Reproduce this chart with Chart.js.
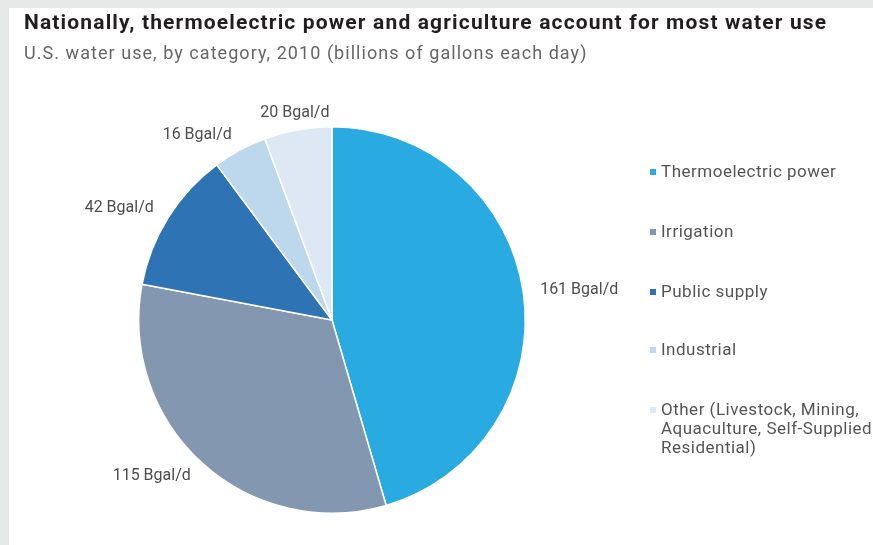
<!DOCTYPE html>
<html>
<head>
<meta charset="utf-8">
<script src="https://cdn.jsdelivr.net/npm/chart.js@4/dist/chart.umd.min.js"></script>
<style>
  html, body { margin: 0; padding: 0; background: #e7e9e8; }
  #frame { position: relative; width: 873px; height: 545px; overflow: hidden; }
  #panel { position: absolute; left: 9px; top: 8px; right: 0; bottom: 0; background: #fff; }
  #chart { position: absolute; left: 0; top: 0; }
  .title { position: absolute; left: 24px; top: 10px; font: bold 21px Roboto, sans-serif; letter-spacing: 1.15px; color: #231f20; white-space: nowrap; }
  .subtitle { position: absolute; left: 24px; top: 42px; font: 18px Roboto, sans-serif; letter-spacing: 1.05px; color: #666; white-space: nowrap; }
  #legend { position: absolute; left: 650px; top: 0; font: 17px Roboto, sans-serif; letter-spacing: 0.5px; color: #555; }
  .item { position: absolute; left: 0; white-space: nowrap; line-height: 19px; }
  .swatch { position: absolute; left: 0; top: 7px; width: 6px; height: 6px; }
  .text { position: absolute; left: 11px; top: 0; }
</style>
</head>
<body>
<div id="frame">
  <div id="panel"></div>
  <canvas id="chart" width="873" height="545"></canvas>
  <div class="title">Nationally, thermoelectric power and agriculture account for most water use</div>
  <div class="subtitle">U.S. water use, by category, 2010 (billions of gallons each day)</div>
  <div id="legend"></div>
</div>
<script>
// Data
const categories = ['Thermoelectric power', 'Irrigation', 'Public supply', 'Industrial', 'Other (Livestock, Mining, Aquaculture, Self-Supplied Residential)'];
const legendLines = [
    ['Thermoelectric power'],
    ['Irrigation'],
    ['Public supply'],
    ['Industrial'],
    ['Other (Livestock, Mining,', 'Aquaculture, Self-Supplied', 'Residential)']
];
const values = [161, 115, 42, 16, 20];
const unit = 'Bgal/d';

// Colours
const COLORS = ['#29abe2', '#8397b0', '#2e74b5', '#bdd7ec', '#dde8f4'];
const LABEL_COLOR = '#4d4d4d';
const LEGEND_TOP = [162, 222, 282, 340, 400];

// HTML legend
const legendEl = document.getElementById('legend');
legendLines.forEach((lines, i) => {
    const item = document.createElement('div');
    item.className = 'item';
    item.style.top = LEGEND_TOP[i] + 'px';
    item.innerHTML = `<span class="swatch" style="background:${COLORS[i]}"></span>` +
        `<span class="text">${lines.join('<br>')}</span>`;
    legendEl.appendChild(item);
});

// Value labels around the pie
const valueLabels = {
    id: 'valueLabels',
    afterDatasetsDraw(chart) {
        const ctx = chart.ctx;
        const meta = chart.getDatasetMeta(0);
        ctx.save();
        ctx.font = "16px Roboto, sans-serif";
        ctx.fillStyle = LABEL_COLOR;
        ctx.textBaseline = 'middle';
        meta.data.forEach((arc, i) => {
            const mid = (arc.startAngle + arc.endAngle) / 2;
            const r = arc.outerRadius + 17;
            const x = arc.x + Math.cos(mid) * r;
            const y = arc.y + Math.sin(mid) * r;
            const s = Math.cos(mid);
            ctx.textAlign = s > 0.3 ? 'left' : (s < -0.3 ? 'right' : 'center');
            ctx.fillText(values[i] + ' ' + unit, x, y);
        });
        ctx.restore();
    }
};

new Chart(document.getElementById('chart').getContext('2d'), {
    type: 'pie',
    data: {
        labels: categories,
        datasets: [{
            data: values,
            backgroundColor: COLORS,
            borderColor: '#ffffff',
            borderWidth: 1.5
        }]
    },
    options: {
        responsive: false,
        animation: false,
        layout: {
            padding: { left: 138, right: 347, top: 126, bottom: 31 }
        },
        plugins: {
            legend: { display: false },
            tooltip: { enabled: false }
        }
    },
    plugins: [valueLabels]
});
</script>
</body>
</html>
